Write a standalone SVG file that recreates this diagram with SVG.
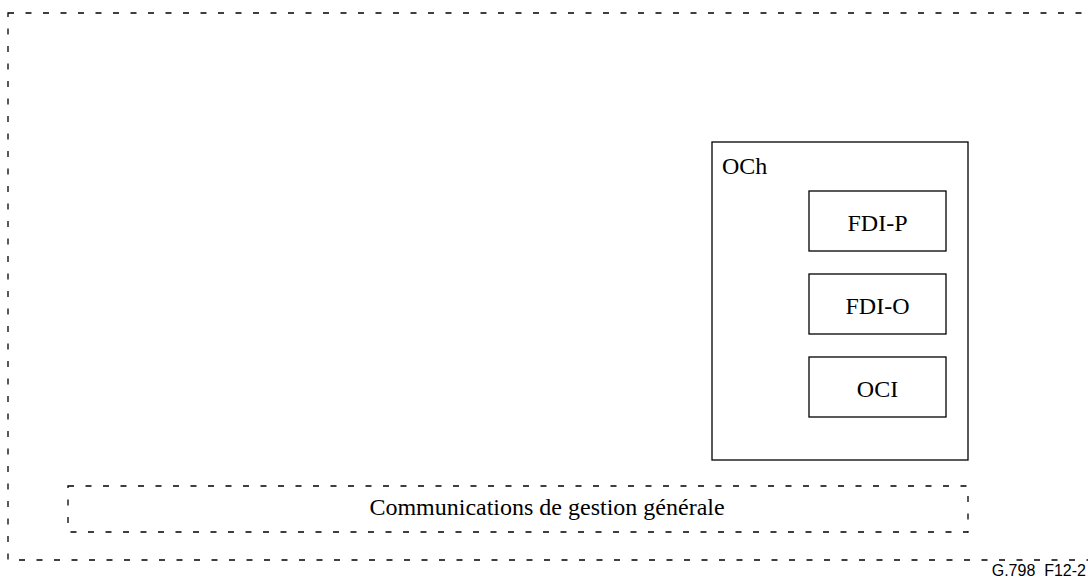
<svg xmlns="http://www.w3.org/2000/svg" width="1088" height="579" viewBox="0 0 1088 579">
<style>
.dash{fill:none;stroke:#000;stroke-width:1.3;stroke-dasharray:6 11.5}
.box{fill:#fff;stroke:#000;stroke-width:1.3}
.t{font-family:"Liberation Serif","Times New Roman",serif;font-size:24px;fill:#000}
.id{font-family:"Liberation Sans",Arial,sans-serif;font-size:16px;fill:#000}
</style>
<rect width="1088" height="579" fill="#fff"/>
<g id="outer">
<rect class="dash" x="8" y="13" width="1100" height="547"/>
</g>
<g id="gestion">
<rect class="dash" x="68" y="486" width="900" height="46"/>
<text class="t" x="547" y="515" text-anchor="middle">Communications de gestion générale</text>
</g>
<g id="och">
<rect class="box" x="712" y="142" width="256" height="318"/>
<text class="t" x="722" y="174">OCh</text>
</g>
<g id="fdi-p">
<rect class="box" x="809" y="191" width="137" height="60"/>
<text class="t" x="877.5" y="231" text-anchor="middle">FDI-P</text>
</g>
<g id="fdi-o">
<rect class="box" x="809" y="274" width="137" height="60"/>
<text class="t" x="877.5" y="314" text-anchor="middle">FDI-O</text>
</g>
<g id="oci">
<rect class="box" x="809" y="357" width="137" height="60"/>
<text class="t" x="877.5" y="397" text-anchor="middle">OCI</text>
</g>
<g id="connectors"></g>
<text class="id" x="1086" y="576" text-anchor="end" xml:space="preserve">G.798  F12-2</text>
</svg>
